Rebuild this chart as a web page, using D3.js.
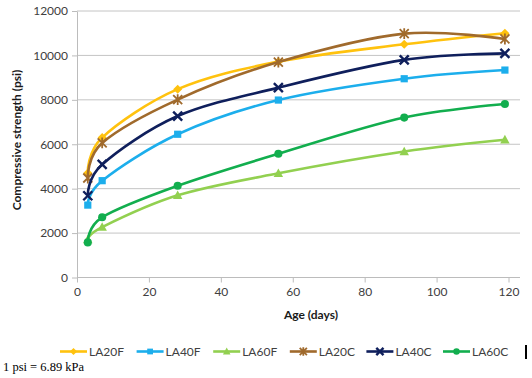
<!DOCTYPE html>
<html><head><meta charset="utf-8">
<script src="https://cdn.jsdelivr.net/npm/d3@7"></script>
<style>
body{margin:0;background:#fff;}
svg{display:block;}
</style></head>
<body>
<svg id="c" width="532" height="378"></svg>
<script>
const ages = [3, 7, 28, 56, 91, 119];
const seriesNames = ["LA20F", "LA40F", "LA60F", "LA20C", "LA40C", "LA60C"];
const LA20F = [4700, 6300, 8480, 9720, 10500, 11000];
const LA40F = [3260, 4360, 6450, 7990, 8950, 9340];
const LA60F = [1700, 2270, 3700, 4690, 5670, 6200];
const LA20C = [4480, 6060, 8010, 9700, 10980, 10740];
const LA40C = [3680, 5090, 7270, 8550, 9800, 10090];
const LA60C = [1580, 2710, 4130, 5570, 7200, 7810];
const yTicks = [0, 2000, 4000, 6000, 8000, 10000, 12000];
const xTicks = [0, 20, 40, 60, 80, 100, 120];

const colors = ["#FFC20E", "#1CAEEC", "#92D050", "#A06A2C", "#0F1F5C", "#12AE4E"];
const shapes = ["diamond", "square", "triangle", "asterisk", "x", "circle"];
const values = [LA20F, LA40F, LA60F, LA20C, LA40C, LA60C];

const svg = d3.select("#c");
const x = d3.scaleLinear().domain([0, 120]).range([77, 508.5]);
const y = d3.scaleLinear().domain([0, 12000]).range([277.5, 11]);
const xEnd = x(123.2);
const font = "Lato, 'Open Sans', sans-serif";

// gridlines
svg.append("g").selectAll("line").data(yTicks.filter(d => d > 0)).join("line")
  .attr("x1", x(0)).attr("x2", xEnd)
  .attr("y1", d => y(d)).attr("y2", d => y(d))
  .attr("stroke", "#c4c4c4").attr("stroke-width", 1);

// y axis
const yAxis = svg.append("g").attr("transform", `translate(${x(0)},0)`)
  .call(d3.axisLeft(y).tickValues(yTicks).tickFormat(d3.format("d")).tickSize(5).tickSizeOuter(0).tickPadding(4));
yAxis.select(".domain").attr("stroke", "#bcbcbc");
yAxis.selectAll(".tick line").attr("stroke", "#bcbcbc");
yAxis.selectAll("text").attr("font-family", font).attr("font-size", 12).attr("fill", "#404040");

// x axis
const xAxis = svg.append("g").attr("transform", `translate(0,${y(0)})`)
  .call(d3.axisBottom(x).tickValues(xTicks).tickFormat(d3.format("d")).tickSize(5).tickSizeOuter(0).tickPadding(5));
xAxis.select(".domain").attr("d", `M${x(0)},0H${xEnd}`).attr("stroke", "#bcbcbc");
xAxis.selectAll(".tick line").attr("stroke", "#bcbcbc");
xAxis.selectAll("text").attr("font-family", font).attr("font-size", 12).attr("fill", "#404040");

// axis titles
svg.append("text").attr("x", 311).attr("y", 319).attr("text-anchor", "middle")
  .attr("font-family", font).attr("font-size", 12).attr("font-weight", "bold").attr("fill", "#1a1a1a")
  .text("Age (days)");
svg.append("text").attr("transform", "translate(21,140) rotate(-90)").attr("text-anchor", "middle")
  .attr("font-family", font).attr("font-size", 12).attr("font-weight", "bold").attr("fill", "#1a1a1a")
  .text("Compressive strength (psi)");

function marker(g, shape, color, size) {
  const s = size;
  if (shape === "diamond") {
    g.append("path").attr("d", `M0,${-s}L${s},0L0,${s}L${-s},0Z`).attr("fill", color);
  } else if (shape === "square") {
    g.append("rect").attr("x", -s * 0.8).attr("y", -s * 0.8).attr("width", s * 1.6).attr("height", s * 1.6).attr("fill", color);
  } else if (shape === "triangle") {
    g.append("path").attr("d", `M0,${-s * 1.1}L${s * 1.05},${s * 0.8}L${-s * 1.05},${s * 0.8}Z`).attr("fill", color);
  } else if (shape === "circle") {
    g.append("circle").attr("r", s * 0.9).attr("fill", color);
  } else if (shape === "x") {
    g.append("path").attr("d", `M${-s},${-s}L${s},${s}M${s},${-s}L${-s},${s}`).attr("stroke", color).attr("stroke-width", 2.4);
  } else if (shape === "asterisk") {
    g.append("path").attr("d", `M${-s},${-s}L${s},${s}M${s},${-s}L${-s},${s}M0,${-s * 1.2}V${s * 1.2}`).attr("stroke", color).attr("stroke-width", 1.8);
  }
}

const line = d3.line().x((d, i) => x(ages[i])).y(d => y(d)).curve(d3.curveCardinal.tension(0));

values.forEach((vals, si) => {
  const g = svg.append("g");
  g.append("path").attr("d", line(vals)).attr("fill", "none")
    .attr("stroke", colors[si]).attr("stroke-width", 2.6);
  vals.forEach((v, i) => {
    const mg = g.append("g").attr("transform", `translate(${x(ages[i])},${y(v)})`);
    marker(mg, shapes[si], colors[si], 4.5);
  });
});

// legend
const lg = svg.append("g");
seriesNames.forEach((name, i) => {
  const lx = 60 + i * 76.6, ly = 351.5;
  const g = lg.append("g").attr("transform", `translate(${lx},${ly})`);
  g.append("line").attr("x1", 0).attr("x2", 27).attr("stroke", colors[i]).attr("stroke-width", 2.6);
  const mg = g.append("g").attr("transform", "translate(13.5,0)");
  marker(mg, shapes[i], colors[i], 3.6);
  g.append("text").attr("x", 29).attr("y", 4.3).attr("font-family", font).attr("font-size", 12)
    .attr("fill", "#404040").text(name);
});

// separator bar
svg.append("rect").attr("x", 525).attr("y", 345).attr("width", 2).attr("height", 14).attr("fill", "#000");

// note
svg.append("text").attr("x", 3).attr("y", 371).attr("font-family", "'Liberation Serif', 'Times New Roman', serif")
  .attr("font-size", 12.5).attr("fill", "#000").text("1 psi = 6.89 kPa");
</script>
</body></html>
